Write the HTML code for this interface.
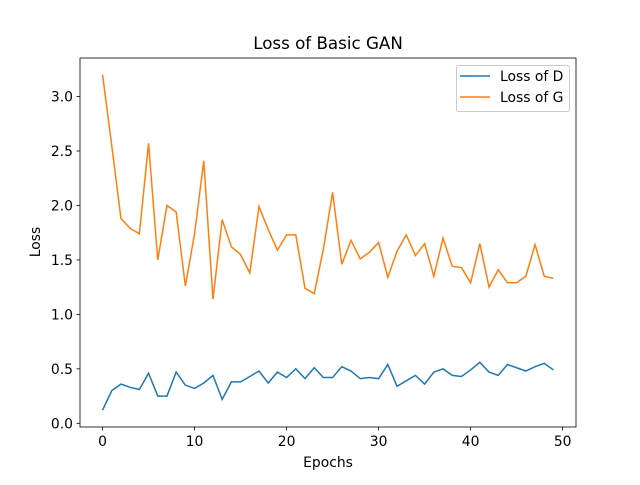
<!DOCTYPE html>
<html><head><meta charset="utf-8"><style>body{margin:0;background:#fff}svg{font-family:"DejaVu Sans","Liberation Sans",sans-serif}</style></head>
<body>
<svg id="c" width="640" height="480" xmlns="http://www.w3.org/2000/svg"></svg>
<script>
const epochs = Array.from({length:50},(_,i)=>i);
const lossD = [0.12,0.30,0.36,0.33,0.31,0.46,0.25,0.25,0.47,0.35,0.32,0.37,0.44,0.22,0.38,0.38,0.43,0.48,0.37,0.47,0.42,0.50,0.41,0.51,0.42,0.42,0.52,0.48,0.41,0.42,0.41,0.54,0.34,0.39,0.44,0.36,0.47,0.50,0.44,0.43,0.49,0.56,0.47,0.44,0.54,0.51,0.48,0.52,0.55,0.49];
const lossG = [3.2,2.55,1.88,1.79,1.74,2.57,1.50,2.00,1.94,1.26,1.74,2.41,1.14,1.87,1.62,1.55,1.38,1.99,1.78,1.59,1.73,1.73,1.24,1.19,1.60,2.12,1.46,1.68,1.51,1.57,1.66,1.34,1.58,1.73,1.54,1.65,1.35,1.70,1.44,1.43,1.29,1.65,1.25,1.41,1.29,1.29,1.35,1.64,1.35,1.33];
const xTicks = [0,10,20,30,40,50];
const yTicks = [0.0,0.5,1.0,1.5,2.0,2.5,3.0];
const L=80,R=576,T=58,B=427;
const ns="http://www.w3.org/2000/svg";
const svg=document.getElementById('c');
const all=lossD.concat(lossG);
const xmin=0,xmax=epochs.length-1, xm=(xmax-xmin)*0.05;
const ymin=Math.min(...all),ymax=Math.max(...all),ym=(ymax-ymin)*0.05;
const sx=v=>L+(v-(xmin-xm))/((xmax+xm)-(xmin-xm))*(R-L);
const sy=v=>B-(v-(ymin-ym))/((ymax+ym)-(ymin-ym))*(B-T);
function mk(tag,attrs,parent){const e=document.createElementNS(ns,tag);for(const k in attrs)e.setAttribute(k,attrs[k]);(parent||svg).appendChild(e);return e;}
let t=mk('text',{x:328,y:49,'text-anchor':'middle','font-size':16.7});t.textContent='Loss of Basic GAN';


function series(vals,color,name){
 const p=mk('polyline',{points:vals.map((v,i)=>sx(epochs[i])+','+sy(v)).join(' '),fill:'none',stroke:color,'stroke-width':1.5});
 
 
}
series(lossD,'#1f77b4','loss-d-line');
series(lossG,'#ff7f0e','loss-g-line');
const frame=mk('rect',{x:L,y:T,width:R-L,height:B-T,fill:'none',stroke:'#000','stroke-width':0.8});


xTicks.forEach(v=>{const x=sx(v);mk('line',{x1:x,x2:x,y1:B,y2:B+3.5,stroke:'#000','stroke-width':0.8});
 const tx=mk('text',{x:x,y:B+19,'text-anchor':'middle','font-size':13.9});tx.textContent=v;
 
 });
yTicks.forEach(v=>{const y=sy(v);mk('line',{x1:L-3.5,x2:L,y1:y,y2:y,stroke:'#000','stroke-width':0.8});
 const ty=mk('text',{x:L-7,y:y+5,'text-anchor':'end','font-size':13.9});ty.textContent=v.toFixed(1);
 
 });
t=mk('text',{x:328,y:467,'text-anchor':'middle','font-size':13.9});t.textContent='Epochs';


t=mk('text',{x:0,y:0,'text-anchor':'middle','font-size':13.9,transform:'translate(40,242) rotate(-90)'});t.textContent='Loss';


const lg=mk('g',{});


mk('rect',{x:456.5,y:65.5,width:113,height:46,rx:2,fill:'#fff',stroke:'#ccc'},lg);
[['Loss of D','#1f77b4',76],['Loss of G','#ff7f0e',97]].forEach(([n,c,y])=>{
 mk('line',{x1:460,x2:490,y1:y,y2:y,stroke:c,'stroke-width':1.5},lg);
 const e=mk('text',{x:500,y:y+5,'font-size':13.9},lg);e.textContent=n;
 
 
});
</script>
</body></html>
